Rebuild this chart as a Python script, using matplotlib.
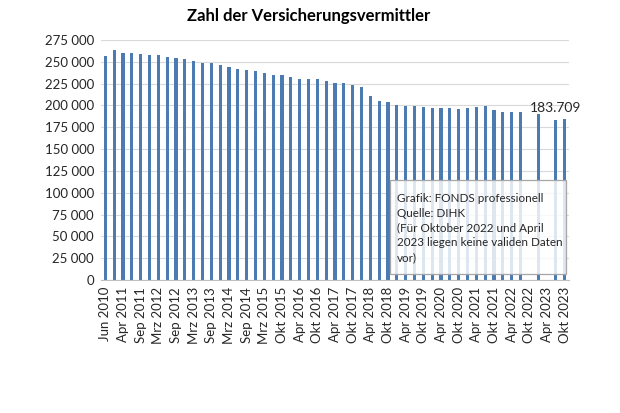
import numpy as np
import matplotlib
matplotlib.use("Agg")
import matplotlib.pyplot as plt
from matplotlib.patches import Rectangle

# data (Okt 2022 and Apr 2023 have no valid data)
categories = [
    "Jun 2010", "Jan 2011", "Apr 2011", "Jul 2011", "Sep 2011", "Jan 2012",
    "Mrz 2012", "Jul 2012", "Sep 2012", "Jan 2013", "Mrz 2013", "Jul 2013",
    "Sep 2013", "Jan 2014", "Mrz 2014", "Jul 2014", "Sep 2014", "Jan 2015",
    "Mrz 2015", "Jul 2015", "Okt 2015", "Jan 2016", "Apr 2016", "Jul 2016",
    "Okt 2016", "Jan 2017", "Apr 2017", "Jul 2017", "Okt 2017", "Jan 2018",
    "Apr 2018", "Jul 2018", "Okt 2018", "Jan 2019", "Apr 2019", "Jul 2019",
    "Okt 2019", "Jan 2020", "Apr 2020", "Jul 2020", "Okt 2020", "Jan 2021",
    "Apr 2021", "Jul 2021", "Okt 2021", "Jan 2022", "Apr 2022", "Jul 2022",
    "Okt 2022", "Jan 2023", "Apr 2023", "Jul 2023", "Okt 2023",
]
vermittler = [
    256900, 263000, 260000, 260000, 258900, 257300, 257300, 255400, 254600,
    253500, 251200, 248800, 248600, 246200, 243900, 241900, 240400, 239600,
    237300, 235000, 234800, 232500, 230800, 229900, 230100, 227600, 225600,
    225500, 223600, 220600, 211000, 205600, 203900, 200600, 199000, 199000,
    198000, 197200, 196700, 196700, 195900, 196700, 198500, 199300, 194700,
    192100, 192100, 192100, np.nan, 190400, np.nan, 183709, 184000,
]
label_idx = 51
y_ticks = list(range(0, 275001, 25000))

title = "Zahl der Versicherungsvermittler"
info_lines = [
    "Grafik: FONDS professionell",
    "Quelle: DIHK",
    "(Für Oktober 2022 und April",
    "2023 liegen keine validen Daten",
    "vor)",
]

plt.rcParams["font.family"] = ["Lato", "DejaVu Sans"]
txt_col = "#262626"
bar_col = "#4C7BB2"

fig = plt.figure(figsize=(6.2, 4.13), dpi=100)
ax = fig.add_axes([101 / 620, 1 - 280 / 413, 468 / 620, 240 / 413])

x = np.arange(len(categories))
ax.bar(x, vermittler, width=0.36, color=bar_col, zorder=2)

ax.set_xlim(-0.5, len(categories) - 0.5)
ax.set_ylim(0, 275000)
ax.set_yticks(y_ticks)
ax.set_yticklabels([f"{v:,}".replace(",", " ") for v in y_ticks],
                   fontsize=9.5, color=txt_col)
ax.set_xticks(x[::2])
ax.set_xticklabels(categories[::2], rotation=90, fontsize=9.5, color=txt_col)
ax.tick_params(axis="both", length=0, pad=5)
ax.grid(axis="y", color="#D9D9D9", linewidth=0.8, zorder=0)
for s in ["top", "right", "left"]:
    ax.spines[s].set_visible(False)
ax.spines["bottom"].set_color("#BFBFBF")

val = vermittler[label_idx]
ax.annotate(f"{val:,.0f}".replace(",", "."), (x[label_idx], val),
            xytext=(0, 4), textcoords="offset points",
            ha="center", va="bottom", fontsize=10, color=txt_col)

fig.text(309 / 620, 1 - 16 / 413, title, ha="center", va="center",
         fontsize=12, fontweight="bold", color="black")

# info box over the bars
box = Rectangle((390 / 620, 1 - 274 / 413), 176 / 620, 94 / 413,
                transform=fig.transFigure, facecolor="white", alpha=0.82,
                edgecolor="none", zorder=3)
fig.add_artist(box)
frame = Rectangle((390 / 620, 1 - 274 / 413), 176 / 620, 94 / 413,
                  transform=fig.transFigure, facecolor="none",
                  edgecolor="#A6A6A6", linewidth=0.9, zorder=4)
fig.add_artist(frame)
for i, line in enumerate(info_lines):
    fig.text(397 / 620, 1 - (198 + i * 15) / 413, line, ha="left",
             va="center", fontsize=8.4, color=txt_col, zorder=5)

fig.savefig("out.png", dpi=100)
